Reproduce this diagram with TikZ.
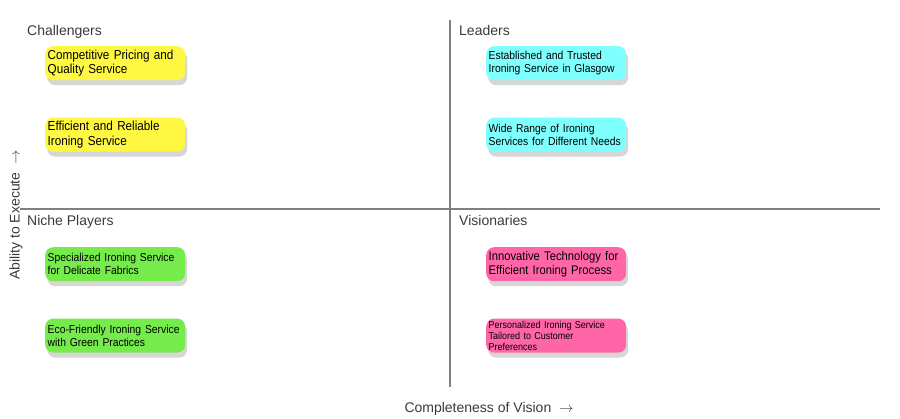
\documentclass[tikz,border=0pt]{standalone}
\usepackage{fontspec}
\setmainfont{Liberation Sans}
\newfontfamily\boxfont{Liberation Sans}[FakeStretch=0.9]
\usetikzlibrary{positioning,shadows}
\definecolor{axisgray}{HTML}{808080}
\definecolor{labgray}{HTML}{3A3A3A}
\definecolor{chalfill}{HTML}{FFF842}
\definecolor{leadfill}{HTML}{80FFFF}
\definecolor{nichefill}{HTML}{76EC4C}
\definecolor{visfill}{HTML}{FF66A8}

\begin{document}
\begin{tikzpicture}[x=1pt,y=-1pt,
  quad/.style={anchor=base west,font=\fontsize{14}{16}\selectfont,text=labgray,inner sep=0pt},
  idea/.style={anchor=north west,rounded corners=8pt,align=left,text width=135pt,
    minimum height=34pt,inner xsep=2.5pt,inner ysep=2pt,
    font=\boxfont\fontsize{11.5}{13}\selectfont,
    drop shadow={shadow xshift=2pt,shadow yshift=-5pt,fill=black!20,opacity=0.8}},
  big/.style={font=\boxfont\fontsize{13}{14.3}\selectfont},
  axlab/.style={font=\fontsize{14}{16}\selectfont,text=labgray,inner sep=0pt}]
\useasboundingbox (0,0) rectangle (900,418);
% axes
\coordinate (vtop) at (450,20);
\coordinate (vbot) at (450,387);
\coordinate (hleft) at (20,209);
\coordinate (hright) at (880,209);
\draw[axisgray,line width=1.5pt] (vtop) -- (vbot);
\draw[axisgray,line width=1.5pt] (hleft) -- (hright);
% quadrant names
\node (chal) [quad] at (27,35) {Challengers};
\node (lead) [quad] at (459,35) {Leaders};
\node (niche) [quad] at (27,225) {Niche Players};
\node (vis) [quad] at (459,225) {Visionaries};
% challengers
\node (cp) [idea,big,fill=chalfill] at (45,46) {Competitive Pricing and\\Quality Service};
\node (er) [idea,big,fill=chalfill,below=37pt of cp.south west,anchor=north west] {Efficient and Reliable\\Ironing Service};
% leaders
\node (et) [idea,fill=leadfill] at (486,46) {Established and Trusted\\Ironing Service in Glasgow};
\node (wr) [idea,fill=leadfill,below=37pt of et.south west,anchor=north west] {Wide Range of Ironing\\Services for Different Needs};
% niche players
\node (si) [idea,fill=nichefill] at (45,247) {Specialized Ironing Service\\for Delicate Fabrics};
\node (ef) [idea,fill=nichefill,below=37pt of si.south west,anchor=north west] {Eco-Friendly Ironing Service\\with Green Practices};
% visionaries
\node (it) [idea,fill=visfill,font=\boxfont\fontsize{12.5}{14}\selectfont] at (486,247) {Innovative Technology for\\Efficient Ironing Process};
\node (pi) [idea,fill=visfill,below=37pt of it.south west,anchor=north west,
  font=\boxfont\fontsize{10}{11}\selectfont] {Personalized Ironing Service\\Tailored to Customer\\Preferences};
% axis names
\node (xlab) [axlab] at (489,409) {Completeness of Vision~~$\rightarrow$};
\node (ylab) [axlab,rotate=90] at (16,215) {Ability to Execute~~$\rightarrow$};
\end{tikzpicture}
\end{document}
